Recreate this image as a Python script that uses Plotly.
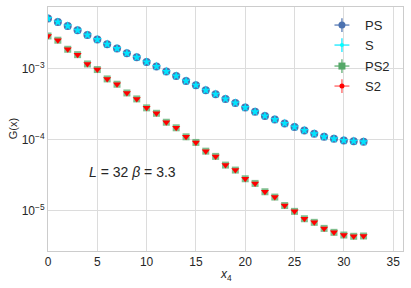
import plotly.graph_objects as go

# ---------------- data ----------------
x4 = list(range(33))

G_PS = [5.06e-3, 4.53e-3, 3.98e-3, 3.46e-3, 2.97e-3, 2.56e-3, 2.20e-3, 1.91e-3,
        1.64e-3, 1.44e-3, 1.24e-3, 1.07e-3, 9.08e-4, 7.87e-4, 6.68e-4, 5.82e-4,
        4.94e-4, 4.35e-4, 3.73e-4, 3.27e-4, 2.82e-4, 2.45e-4, 2.15e-4, 1.91e-4,
        1.68e-4, 1.50e-4, 1.34e-4, 1.20e-4, 1.09e-4, 1.02e-4, 9.68e-5, 9.46e-5,
        9.25e-5]
G_S = [5.06e-3, 4.53e-3, 3.98e-3, 3.46e-3, 2.97e-3, 2.56e-3, 2.20e-3, 1.91e-3,
       1.64e-3, 1.44e-3, 1.24e-3, 1.07e-3, 9.08e-4, 7.87e-4, 6.68e-4, 5.82e-4,
       4.94e-4, 4.35e-4, 3.73e-4, 3.27e-4, 2.82e-4, 2.45e-4, 2.15e-4, 1.91e-4,
       1.68e-4, 1.50e-4, 1.34e-4, 1.20e-4, 1.09e-4, 1.02e-4, 9.68e-5, 9.46e-5,
       9.25e-5]
G_PS2 = [2.88e-3, 2.51e-3, 1.87e-3, 1.57e-3, 1.16e-3, 9.68e-4, 7.14e-4, 6.01e-4,
         4.53e-4, 3.73e-4, 2.79e-4, 2.34e-4, 1.75e-4, 1.46e-4, 1.09e-4, 9.08e-5,
         6.84e-5, 5.77e-5, 4.35e-5, 3.70e-5, 2.79e-5, 2.40e-5, 1.83e-5, 1.54e-5,
         1.17e-5, 9.68e-6, 7.62e-6, 6.78e-6, 5.57e-6, 4.90e-6, 4.49e-6, 4.31e-6,
         4.35e-6]
G_S2 = [2.88e-3, 2.51e-3, 1.87e-3, 1.57e-3, 1.16e-3, 9.68e-4, 7.14e-4, 6.01e-4,
        4.53e-4, 3.73e-4, 2.79e-4, 2.34e-4, 1.75e-4, 1.46e-4, 1.09e-4, 9.08e-5,
        6.84e-5, 5.77e-5, 4.35e-5, 3.70e-5, 2.79e-5, 2.40e-5, 1.83e-5, 1.54e-5,
        1.17e-5, 9.68e-6, 7.62e-6, 6.78e-6, 5.57e-6, 4.90e-6, 4.49e-6, 4.31e-6,
        4.35e-6]

x_ticks = [0, 5, 10, 15, 20, 25, 30, 35]
y_tickvals = [1e-5, 1e-4, 1e-3]
y_ticktext = ["10<sup>\u22125</sup>", "10<sup>\u22124</sup>", "10<sup>\u22123</sup>"]
legend_labels = ["PS", "S", "PS2", "S2"]

FONT = "Liberation Sans, Arial, sans-serif"
GRID = "#dcdcdc"
TXT = "#262626"

fig = go.Figure()

# main data
fig.add_trace(go.Scatter(x=x4, y=G_PS, mode="markers", name="PS", showlegend=False,
                         marker=dict(symbol="circle", size=8, color="#4c72b0",
                                     line=dict(width=0))))
fig.add_trace(go.Scatter(x=x4, y=G_S, mode="markers", name="S", showlegend=False,
                         marker=dict(symbol="star", size=7, color="#00e5ff",
                                     line=dict(width=0))))
fig.add_trace(go.Scatter(x=x4, y=G_PS2, mode="markers", name="PS2", showlegend=False,
                         marker=dict(symbol="square", size=7, color="rgba(85,168,104,0.75)",
                                     line=dict(width=0))))
fig.add_trace(go.Scatter(x=x4, y=G_S2, mode="markers", name="S2", showlegend=False,
                         marker=dict(symbol="triangle-down", size=7, color="#ff0000",
                                     line=dict(width=0))))

# custom legend (markers with error-bar crosses) on an overlay axis
leg_y = [0.926, 0.844, 0.758, 0.676]
leg_x = 0.828
leg_styles = [
    dict(symbol="circle", size=7, color="#4c72b0", ecolor="rgba(76,114,176,0.8)"),
    dict(symbol="circle", size=4, color="#00ffff", ecolor="rgba(0,230,255,0.8)"),
    dict(symbol="square", size=7, color="#55a868", ecolor="rgba(85,168,104,0.8)"),
    dict(symbol="circle", size=5, color="#ff0000", ecolor="rgba(255,60,60,0.7)"),
]
for lab, yy, st in zip(legend_labels, leg_y, leg_styles):
    fig.add_trace(go.Scatter(
        x=[leg_x], y=[yy], xaxis="x2", yaxis="y2", mode="markers", showlegend=False,
        hoverinfo="skip",
        marker=dict(symbol=st["symbol"], size=st["size"], color=st["color"], line=dict(width=0)),
        error_x=dict(type="constant", value=0.021, color=st["ecolor"], thickness=1.5, width=0),
        error_y=dict(type="constant", value=0.028, color=st["ecolor"], thickness=1.5, width=0),
    ))
    fig.add_annotation(x=0.887, y=yy, xref="paper", yref="paper", text=lab,
                       showarrow=False, xanchor="left", yanchor="middle",
                       font=dict(family=FONT, size=13, color=TXT))

fig.add_annotation(x=0.11, y=0.324, xref="paper", yref="paper",
                   text="<i>L</i> = 32 <i>\u03b2</i> = 3.3", showarrow=False,
                   xanchor="left", yanchor="middle",
                   font=dict(family=FONT, size=14, color=TXT))

# axis titles
fig.add_annotation(x=0.5, y=-0.098, xref="paper", yref="paper",
                   text="<i>x</i><sub>4</sub>", showarrow=False,
                   xanchor="center", yanchor="middle",
                   font=dict(family=FONT, size=12, color=TXT))
fig.add_annotation(x=-0.098, y=0.5, xref="paper", yref="paper",
                   text="G(x)", showarrow=False, textangle=-90,
                   xanchor="center", yanchor="middle",
                   font=dict(family=FONT, size=11, color=TXT))

fig.update_layout(
    width=411, height=288,
    margin=dict(l=48, r=8, t=7, b=37, autoexpand=False),
    paper_bgcolor="white", plot_bgcolor="white",
    font=dict(family=FONT, size=12, color=TXT),
    xaxis=dict(range=[0, 36], tickvals=x_ticks, showgrid=True, gridcolor=GRID,
               gridwidth=1, zeroline=False, showline=True, linecolor="#cccccc",
               mirror=True, ticks="", automargin=False,
               tickfont=dict(size=12)),
    yaxis=dict(type="log", range=[-5.573, -2.132], tickvals=y_tickvals,
               ticktext=y_ticktext, showgrid=True, gridcolor=GRID, gridwidth=1,
               zeroline=False, showline=True, linecolor="#cccccc", mirror=True,
               ticks="", automargin=False, tickfont=dict(size=12)),
    xaxis2=dict(overlaying="x", range=[0, 1], visible=False, fixedrange=True),
    yaxis2=dict(overlaying="y", range=[0, 1], visible=False, fixedrange=True),
)

fig.write_html("out.html",
               config={"displayModeBar": False},
               post_script="document.body.style.margin='0';document.body.style.overflow='hidden';")
